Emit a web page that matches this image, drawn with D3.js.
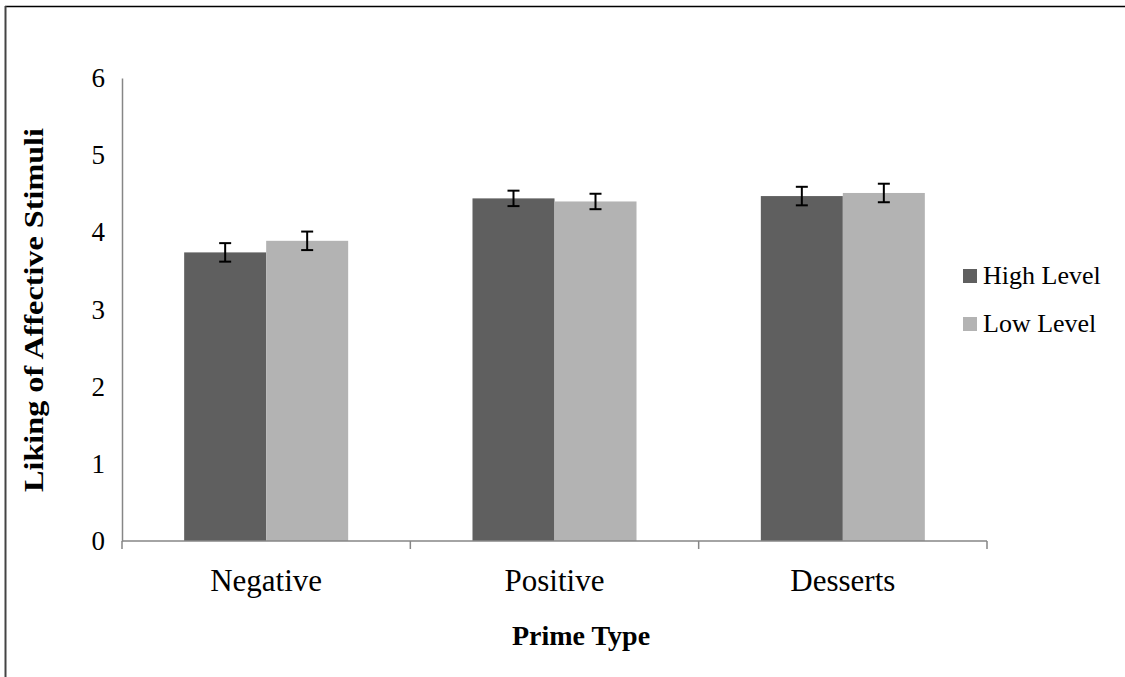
<!DOCTYPE html>
<html>
<head>
<meta charset="utf-8">
<script src="https://cdn.jsdelivr.net/npm/d3@7"></script>
<style>
  html, body { margin: 0; padding: 0; background: #fff; }
  svg { display: block; font-family: "Liberation Serif", "Times New Roman", serif; }
</style>
</head>
<body>
<svg id="chart" width="1125" height="677"></svg>
<script>
// Prime type categories and the two construal-level series
const categories = ["Negative", "Positive", "Desserts"];
const seriesNames = ["High Level", "Low Level"];
const highLevel = [3.74, 4.44, 4.47];
const lowLevel = [3.89, 4.40, 4.51];
const highErr = [0.12, 0.10, 0.12];
const lowErr = [0.12, 0.10, 0.12];
const yTicks = [0, 1, 2, 3, 4, 5, 6];
const colors = ["#5f5f5f", "#b3b3b3"];

const rows = categories.map((c, i) => ({
  cat: c,
  vals: [
    { s: seriesNames[0], v: highLevel[i], e: highErr[i] },
    { s: seriesNames[1], v: lowLevel[i], e: lowErr[i] }
  ]
}));

const svg = d3.select("#chart");
const plotLeft = 122, plotRight = 987, plotTop = 78, plotBottom = 541;

const y = d3.scaleLinear().domain([0, 6]).range([plotBottom, plotTop]);
const x0 = d3.scaleBand().domain(categories).range([plotLeft, plotRight]).padding(0);
const x1 = d3.scaleBand().domain(seriesNames).range([0, x0.bandwidth()])
  .paddingInner(0).paddingOuter(0.758);
const color = d3.scaleOrdinal().domain(seriesNames).range(colors);

// outer frame (top and left edges)
svg.append("line").attr("x1", 5).attr("x2", 1125).attr("y1", 6.5).attr("y2", 6.5)
  .attr("stroke", "#000").attr("stroke-width", 1.5);
svg.append("line").attr("x1", 5.5).attr("x2", 5.5).attr("y1", 6).attr("y2", 677)
  .attr("stroke", "#444").attr("stroke-width", 2);

// bars
const g = svg.append("g");
const groups = g.selectAll("g.cat").data(rows).join("g")
  .attr("transform", d => `translate(${x0(d.cat)},0)`);
groups.selectAll("rect").data(d => d.vals).join("rect")
  .attr("x", d => x1(d.s))
  .attr("y", d => y(d.v))
  .attr("width", x1.bandwidth())
  .attr("height", d => y(0) - y(d.v))
  .attr("fill", d => color(d.s));

// error bars
const eb = groups.selectAll("g.err").data(d => d.vals).join("g")
  .attr("stroke", "#000").attr("stroke-width", 2);
eb.append("line")
  .attr("x1", d => x1(d.s) + x1.bandwidth() / 2)
  .attr("x2", d => x1(d.s) + x1.bandwidth() / 2)
  .attr("y1", d => y(d.v + d.e)).attr("y2", d => y(d.v - d.e));
eb.append("line")
  .attr("x1", d => x1(d.s) + x1.bandwidth() / 2 - 6)
  .attr("x2", d => x1(d.s) + x1.bandwidth() / 2 + 6)
  .attr("y1", d => y(d.v + d.e)).attr("y2", d => y(d.v + d.e));
eb.append("line")
  .attr("x1", d => x1(d.s) + x1.bandwidth() / 2 - 6)
  .attr("x2", d => x1(d.s) + x1.bandwidth() / 2 + 6)
  .attr("y1", d => y(d.v - d.e)).attr("y2", d => y(d.v - d.e));

// y axis
const yAxis = svg.append("g").attr("transform", `translate(${plotLeft},0)`)
  .call(d3.axisLeft(y).tickValues(yTicks).tickSize(0).tickPadding(17).tickFormat(d3.format("d")));
yAxis.select(".domain").attr("stroke", "#868686").attr("stroke-width", 1.5);
yAxis.selectAll("text").attr("font-size", 27).attr("fill", "#000")
  .attr("font-family", "Liberation Serif, serif");

// x axis with boundary ticks
const xAxisG = svg.append("g").attr("transform", `translate(0,${plotBottom})`);
xAxisG.append("line").attr("x1", plotLeft).attr("x2", plotRight).attr("y1", 0).attr("y2", 0)
  .attr("stroke", "#868686").attr("stroke-width", 1.5);
const bounds = categories.map(c => x0(c)).concat([x0(categories[categories.length - 1]) + x0.bandwidth()]);
xAxisG.selectAll("line.tk").data(bounds).join("line").attr("class", "tk")
  .attr("x1", d => d).attr("x2", d => d).attr("y1", 0).attr("y2", 8)
  .attr("stroke", "#868686").attr("stroke-width", 1.5);
xAxisG.selectAll("text").data(categories).join("text")
  .attr("x", d => x0(d) + x0.bandwidth() / 2)
  .attr("y", 50)
  .attr("text-anchor", "middle")
  .attr("font-size", 31)
  .text(d => d);

// axis titles
svg.append("text").attr("x", 581).attr("y", 645).attr("text-anchor", "middle")
  .attr("font-size", 28).attr("font-weight", "bold").text("Prime Type");
svg.append("text").attr("transform", "translate(43,310) rotate(-90)")
  .attr("text-anchor", "middle").attr("font-size", 28).attr("font-weight", "bold")
  .attr("textLength", 364).attr("lengthAdjust", "spacingAndGlyphs")
  .text("Liking of Affective Stimuli");

// legend
const leg = svg.append("g").selectAll("g").data(seriesNames).join("g")
  .attr("transform", (d, i) => `translate(963,${269 + i * 48})`);
leg.append("rect").attr("width", 14).attr("height", 14).attr("fill", d => color(d));
leg.append("text").attr("x", 20).attr("y", 14.5).attr("font-size", 26).text(d => d);
</script>
</body>
</html>
